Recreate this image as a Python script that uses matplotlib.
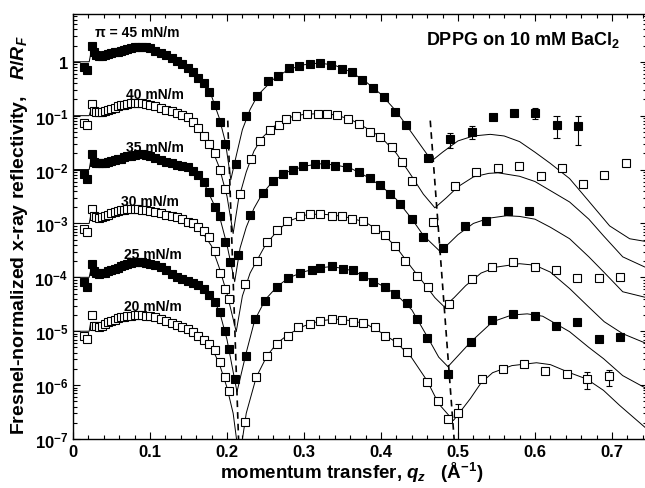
import matplotlib
matplotlib.use('Agg')
import matplotlib.pyplot as plt
import numpy as np
from matplotlib.ticker import LogLocator, MultipleLocator, FixedLocator, FuncFormatter, NullFormatter

plt.rcParams['font.family'] = 'Liberation Sans'
plt.rcParams['font.weight'] = 'bold'
plt.rcParams['mathtext.fontset'] = 'custom'
plt.rcParams['mathtext.rm'] = 'Liberation Sans:bold'
plt.rcParams['mathtext.bf'] = 'Liberation Sans:bold'
plt.rcParams['mathtext.it'] = 'Liberation Sans:italic:bold'

### data (R/R_F of each isotherm, before the decade offsets) ###

labels = ['\u03c0 = 45 mN/m', '40 mN/m', '35 mN/m', '30 mN/m', '25 mN/m', '20 mN/m']
offsets = [1, 1e-1, 1e-2, 1e-3, 1e-4, 1e-5]
filled = [True, False, True, False, True, False]
y_decades = [1e-7, 1e-6, 1e-5, 1e-4, 1e-3, 1e-2, 1e-1, 1]

# measured points, low-q part shares one q grid
q_low = [0.014, 0.018, 0.025, 0.027, 0.030, 0.034, 0.038, 0.042, 0.046, 0.050, 0.054,
         0.058, 0.062, 0.066, 0.070, 0.075, 0.080, 0.085, 0.090, 0.095, 0.100, 0.107,
         0.114, 0.121, 0.128, 0.135, 0.142, 0.149, 0.156, 0.163, 0.170, 0.177, 0.184,
         0.191, 0.198]

r45_low = [0.8, 0.7, 1.95, 1.55, 1.35, 1.3, 1.3, 1.35, 1.4, 1.45, 1.5, 1.55, 1.6, 1.65, 1.7,
           1.78, 1.85, 1.9, 1.9, 1.85, 1.8, 1.6, 1.45, 1.32, 1.2, 1.05, 0.9, 0.78, 0.65, 0.5,
           0.4, 0.28, 0.16, 0.076, 0.03]
r40_low = [0.72, 0.66, 1.65, 1.2, 1.15, 1.15, 1.18, 1.2, 1.28, 1.34, 1.4, 1.48, 1.55, 1.6, 1.65,
           1.72, 1.74, 1.74, 1.7, 1.65, 1.6, 1.5, 1.4, 1.3, 1.2, 1.12, 1.05, 0.95, 0.75, 0.58,
           0.42, 0.3, 0.2, 0.1, 0.044]
r35_low = [0.83, 0.68, 1.95, 1.4, 1.35, 1.32, 1.32, 1.35, 1.4, 1.45, 1.5, 1.55, 1.6, 1.68, 1.75,
           1.82, 1.88, 1.95, 1.95, 1.9, 1.8, 1.62, 1.5, 1.4, 1.3, 1.24, 1.18, 1.12, 0.95, 0.8,
           0.58, 0.38, 0.2, 0.135, 0.045]
r30_low = [0.8, 0.7, 1.87, 1.39, 1.3, 1.28, 1.3, 1.35, 1.45, 1.55, 1.62, 1.7, 1.75, 1.8, 1.83,
           1.87, 1.87, 1.85, 1.8, 1.75, 1.7, 1.65, 1.55, 1.45, 1.4, 1.3, 1.2, 1.08, 1.0, 0.85,
           0.72, 0.55, 0.31, 0.12, 0.06]
r25_low = [0.83, 0.67, 1.8, 1.3, 1.2, 1.15, 1.18, 1.22, 1.3, 1.38, 1.45, 1.52, 1.6, 1.68, 1.75,
           1.82, 1.9, 1.95, 1.92, 1.85, 1.78, 1.66, 1.55, 1.35, 1.15, 1.02, 0.93, 0.86, 0.8, 0.72,
           0.6, 0.48, 0.35, 0.23, 0.1]
r20_low = [0.83, 0.73, 2.0, 1.26, 1.25, 1.22, 1.25, 1.35, 1.48, 1.58, 1.65, 1.73, 1.8, 1.86, 1.9,
           1.94, 1.97, 2.0, 1.98, 1.95, 1.92, 1.82, 1.7, 1.55, 1.45, 1.32, 1.2, 1.1, 0.98, 0.82,
           0.7, 0.58, 0.45, 0.27, 0.14]

# measured points above the first minimum
q45_hi = [0.212, 0.225, 0.239, 0.253, 0.266, 0.280, 0.294, 0.308, 0.321, 0.335, 0.349, 0.362,
          0.376, 0.390, 0.404, 0.418, 0.432, 0.461, 0.490, 0.518, 0.545, 0.573, 0.600, 0.628, 0.656]
r45_hi = [0.0128, 0.1, 0.23, 0.44, 0.55, 0.78, 0.85, 0.92, 0.96, 0.86, 0.72, 0.65, 0.45, 0.32,
          0.22, 0.115, 0.066, 0.0166, 0.037, 0.05, 0.093, 0.11, 0.11, 0.068, 0.065]
q40_hi = [0.217, 0.231, 0.243, 0.256, 0.267, 0.277, 0.290, 0.304, 0.318, 0.330, 0.343, 0.357,
          0.371, 0.386, 0.399, 0.414, 0.427, 0.440, 0.468, 0.496, 0.524, 0.552, 0.579, 0.608,
          0.635, 0.662, 0.690, 0.718]
r40_hi = [0.035, 0.16, 0.34, 0.55, 0.68, 0.87, 1.0, 1.08, 1.08, 1.08, 1.04, 0.88, 0.71, 0.5,
          0.41, 0.265, 0.14, 0.062, 0.0108, 0.05, 0.091, 0.108, 0.118, 0.077, 0.108, 0.055, 0.08, 0.134]
q35_hi = [0.204, 0.214, 0.230, 0.247, 0.260, 0.273, 0.286, 0.299, 0.314, 0.327, 0.340, 0.356,
          0.371, 0.386, 0.399, 0.412, 0.425, 0.440, 0.455, 0.480, 0.509, 0.537, 0.565, 0.592]
r35_hi = [0.0195, 0.026, 0.145, 0.37, 0.62, 0.835, 1.0, 1.16, 1.28, 1.28, 1.16, 1.13, 0.91, 0.705,
          0.52, 0.356, 0.232, 0.122, 0.057, 0.035, 0.09, 0.11, 0.167, 0.17]
q30_hi = [0.203, 0.223, 0.239, 0.252, 0.265, 0.278, 0.295, 0.308, 0.321, 0.336, 0.349, 0.362,
          0.377, 0.392, 0.405, 0.418, 0.431, 0.447, 0.461, 0.488, 0.518, 0.544, 0.571, 0.600,
          0.627, 0.655, 0.683, 0.711]
r30_hi = [0.04, 0.076, 0.2, 0.46, 0.75, 1.12, 1.39, 1.5, 1.51, 1.39, 1.39, 1.22, 1.12, 0.8, 0.6,
          0.386, 0.203, 0.107, 0.067, 0.032, 0.095, 0.158, 0.195, 0.158, 0.138, 0.098, 0.096, 0.103]
q25_hi = [0.202, 0.210, 0.225, 0.236, 0.249, 0.265, 0.279, 0.295, 0.310, 0.321, 0.336, 0.351,
          0.364, 0.377, 0.390, 0.405, 0.418, 0.434, 0.447, 0.460, 0.487, 0.517, 0.544, 0.571,
          0.600, 0.627, 0.655, 0.683, 0.710]
r25_hi = [0.047, 0.013, 0.034, 0.17, 0.37, 0.67, 0.98, 1.22, 1.38, 1.51, 1.6, 1.44, 1.34, 1.07,
          0.83, 0.67, 0.5, 0.34, 0.17, 0.075, 0.0163, 0.064, 0.163, 0.21, 0.19, 0.126, 0.15, 0.073, 0.078]
q20_hi = [0.203, 0.223, 0.238, 0.252, 0.265, 0.279, 0.292, 0.308, 0.321, 0.336, 0.350, 0.364,
          0.377, 0.392, 0.405, 0.421, 0.434, 0.460, 0.474, 0.487, 0.500, 0.531, 0.558, 0.586,
          0.613, 0.641, 0.668, 0.696]
r20_hi = [0.079, 0.021, 0.143, 0.35, 0.59, 0.83, 1.21, 1.38, 1.57, 1.71, 1.63, 1.51, 1.44, 1.19,
          0.83, 0.64, 0.42, 0.116, 0.051, 0.024, 0.03, 0.13, 0.2, 0.25, 0.185, 0.163, 0.13, 0.15]

# error bars (q, lower, upper)
err45_q = [0.490, 0.518, 0.600, 0.628, 0.656]
err45_lo = [0.025, 0.037, 0.0875, 0.039, 0.029]
err45_hi = [0.048, 0.065, 0.14, 0.099, 0.099]
err20_q = [0.500, 0.668, 0.696]
err20_lo = [0.003, 0.086, 0.095]
err20_hi = [0.045, 0.177, 0.19]

# model fits, low-q part on a shared grid
qfit_low = [0.0, 0.021, 0.023, 0.03, 0.04, 0.05, 0.06, 0.07, 0.08, 0.09, 0.10, 0.11, 0.12,
            0.13, 0.14, 0.15, 0.16, 0.17, 0.18, 0.19]
fit45_low = [1.0, 1.0, 1.4, 1.32, 1.33, 1.45, 1.6, 1.75, 1.85, 1.9, 1.8, 1.55, 1.32, 1.15, 0.95,
             0.78, 0.56, 0.4, 0.23, 0.09]
fit40_low = [1.0, 1.0, 1.25, 1.15, 1.2, 1.32, 1.5, 1.65, 1.73, 1.73, 1.6, 1.45, 1.3, 1.15, 1.05,
             0.92, 0.68, 0.43, 0.25, 0.11]
fit35_low = [1.0, 1.0, 1.45, 1.35, 1.35, 1.45, 1.6, 1.78, 1.9, 1.95, 1.8, 1.58, 1.42, 1.28, 1.2,
             1.08, 0.86, 0.57, 0.28, 0.14]
fit30_low = [1.0, 1.0, 1.4, 1.3, 1.32, 1.5, 1.68, 1.8, 1.87, 1.82, 1.75, 1.62, 1.45, 1.3, 1.2,
             1.05, 0.85, 0.62, 0.38, 0.15]
fit25_low = [1.0, 1.0, 1.35, 1.2, 1.2, 1.35, 1.55, 1.72, 1.88, 1.93, 1.8, 1.6, 1.38, 1.12, 0.97,
             0.86, 0.75, 0.6, 0.42, 0.24]
fit20_low = [1.0, 1.0, 1.45, 1.25, 1.3, 1.5, 1.72, 1.88, 1.97, 1.98, 1.95, 1.8, 1.58, 1.4, 1.25,
             1.08, 0.9, 0.7, 0.5, 0.25]

qfit45_hi = [0.198, 0.205, 0.212, 0.22, 0.23, 0.24, 0.26, 0.28, 0.30, 0.32, 0.34, 0.36, 0.38,
             0.40, 0.42, 0.44, 0.455, 0.466, 0.48, 0.50, 0.52, 0.542, 0.56, 0.58, 0.60, 0.62,
             0.645, 0.667, 0.697, 0.723, 0.745]
fit45_hi = [0.032, 0.0065, 0.018, 0.055, 0.13, 0.24, 0.47, 0.72, 0.88, 0.95, 0.86, 0.66, 0.43,
            0.25, 0.12, 0.048, 0.024, 0.0145, 0.021, 0.034, 0.042, 0.045, 0.042, 0.033, 0.021,
            0.013, 0.0068, 0.0029, 0.0009, 0.00052, 0.00046]
qfit40_hi = [0.20, 0.208, 0.215, 0.225, 0.235, 0.245, 0.26, 0.28, 0.30, 0.32, 0.34, 0.36, 0.38,
             0.40, 0.42, 0.44, 0.455, 0.47, 0.485, 0.50, 0.52, 0.54, 0.552, 0.58, 0.60, 0.645,
             0.67, 0.689, 0.714, 0.745]
fit40_hi = [0.032, 0.0065, 0.028, 0.09, 0.22, 0.38, 0.62, 0.92, 1.06, 1.09, 1.04, 0.86, 0.6,
            0.4, 0.2, 0.075, 0.035, 0.0195, 0.03, 0.048, 0.073, 0.085, 0.087, 0.075, 0.06, 0.025,
            0.012, 0.0059, 0.0024, 0.0015]
qfit35_hi = [0.20, 0.21, 0.217, 0.225, 0.235, 0.245, 0.26, 0.28, 0.30, 0.32, 0.34, 0.36, 0.38,
             0.40, 0.42, 0.44, 0.455, 0.477, 0.49, 0.50, 0.52, 0.54, 0.563, 0.58, 0.60, 0.62,
             0.645, 0.67, 0.689, 0.714, 0.745]
fit35_hi = [0.04, 0.0083, 0.035, 0.085, 0.19, 0.34, 0.62, 0.92, 1.15, 1.28, 1.22, 1.07, 0.76,
            0.5, 0.28, 0.122, 0.06, 0.03, 0.045, 0.062, 0.1, 0.125, 0.139, 0.135, 0.12, 0.085,
            0.052, 0.024, 0.0127, 0.0054, 0.0042]
qfit30_hi = [0.20, 0.212, 0.22, 0.23, 0.24, 0.25, 0.265, 0.28, 0.30, 0.32, 0.34, 0.36, 0.38,
             0.40, 0.42, 0.44, 0.46, 0.47, 0.482, 0.495, 0.51, 0.53, 0.55, 0.58, 0.60, 0.62,
             0.645, 0.67, 0.69, 0.714, 0.745]
fit30_hi = [0.05, 0.0098, 0.045, 0.12, 0.22, 0.4, 0.72, 1.1, 1.42, 1.5, 1.42, 1.27, 1.05, 0.7,
            0.36, 0.15, 0.065, 0.042, 0.0285, 0.042, 0.07, 0.12, 0.155, 0.179, 0.168, 0.125,
            0.062, 0.028, 0.015, 0.009, 0.0059]
qfit25_hi = [0.20, 0.213, 0.225, 0.236, 0.25, 0.265, 0.28, 0.30, 0.32, 0.335, 0.35, 0.365, 0.38,
             0.40, 0.42, 0.44, 0.46, 0.475, 0.487, 0.50, 0.517, 0.545, 0.57, 0.59, 0.61, 0.645,
             0.67, 0.689, 0.714, 0.745]
fit25_hi = [0.07, 0.0075, 0.04, 0.16, 0.39, 0.67, 0.98, 1.27, 1.5, 1.58, 1.47, 1.3, 1.0, 0.72,
            0.48, 0.25, 0.08, 0.033, 0.022, 0.035, 0.064, 0.15, 0.2, 0.21, 0.19, 0.098, 0.05,
            0.031, 0.015, 0.0086]
qfit20_hi = [0.20, 0.208, 0.216, 0.225, 0.238, 0.252, 0.265, 0.28, 0.30, 0.32, 0.34, 0.36, 0.38,
             0.40, 0.42, 0.44, 0.46, 0.475, 0.494, 0.505, 0.516, 0.53, 0.545, 0.57, 0.602, 0.62,
             0.645, 0.667, 0.689, 0.71, 0.745]
fit20_hi = [0.09, 0.03, 0.004, 0.03, 0.14, 0.35, 0.6, 0.88, 1.25, 1.55, 1.68, 1.58, 1.38, 0.95,
            0.62, 0.32, 0.12, 0.045, 0.022, 0.035, 0.056, 0.11, 0.17, 0.23, 0.26, 0.24, 0.17,
            0.13, 0.08, 0.042, 0.0155]

# dashed lines through the minima
dash_q = [[0.201, 0.215], [0.464, 0.495]]
dash_r = [0.081, 1e-7]

data_low = [r45_low, r40_low, r35_low, r30_low, r25_low, r20_low]
data_hi_q = [q45_hi, q40_hi, q35_hi, q30_hi, q25_hi, q20_hi]
data_hi = [r45_hi, r40_hi, r35_hi, r30_hi, r25_hi, r20_hi]
fits_low = [fit45_low, fit40_low, fit35_low, fit30_low, fit25_low, fit20_low]
fits_hi_q = [qfit45_hi, qfit40_hi, qfit35_hi, qfit30_hi, qfit25_hi, qfit20_hi]
fits_hi = [fit45_hi, fit40_hi, fit35_hi, fit30_hi, fit25_hi, fit20_hi]

### plot ###

fig = plt.figure(figsize=(6.45, 4.89), dpi=100)
ax = fig.add_axes([73/645, 49/489, 573.6/645, 425/489])

for i in range(6):
    off = offsets[i]
    fq = np.array(qfit_low + fits_hi_q[i])
    fr = np.array(fits_low[i] + fits_hi[i]) * off
    ax.plot(fq, fr, color='black', lw=0.7, zorder=2)

    q = np.array(q_low + data_hi_q[i])
    r = np.array(data_low[i] + data_hi[i]) * off
    face = 'black' if filled[i] else 'white'
    ax.plot(q, r, ls='none', marker='s', ms=5.5, mfc=face, mec='black', mew=0.8, zorder=4)

# error bars
for eq, elo, ehi, off in [(err45_q, err45_lo, err45_hi, offsets[0]),
                          (err20_q, err20_lo, err20_hi, offsets[5])]:
    ax.vlines(eq, np.array(elo)*off, np.array(ehi)*off, color='black', lw=0.8, zorder=3)
    ax.hlines(np.array(elo)*off, np.array(eq)-0.004, np.array(eq)+0.004, color='black', lw=0.8, zorder=3)
    ax.hlines(np.array(ehi)*off, np.array(eq)-0.004, np.array(eq)+0.004, color='black', lw=0.8, zorder=3)

for dq in dash_q:
    ax.plot(dq, dash_r, color='black', lw=1.2, ls=(0, (4, 3)), zorder=3)

ax.set_yscale('log')
ax.set_xlim(0, 0.745)
ax.set_ylim(1e-7, 7.7)

ax.xaxis.set_major_locator(MultipleLocator(0.1))
ax.xaxis.set_minor_locator(MultipleLocator(0.02))
ax.xaxis.set_major_formatter(FuncFormatter(lambda v, p: '0' if abs(v) < 1e-9 else '%.1f' % v))
ax.yaxis.set_major_locator(FixedLocator(y_decades))
ax.yaxis.set_minor_locator(LogLocator(base=10, subs=np.arange(2, 10), numticks=20))
ax.yaxis.set_major_formatter(FuncFormatter(
    lambda v, p: '1' if abs(v - 1) < 1e-9 else r'$10^{%d}$' % round(np.log10(v))))
ax.yaxis.set_minor_formatter(NullFormatter())

ax.tick_params(which='both', direction='in', top=True, right=True, width=0.8)
ax.tick_params(which='major', length=5, labelsize=12)
ax.tick_params(which='minor', length=3)
for s in ax.spines.values():
    s.set_linewidth(1.0)

ax.set_xlabel('momentum transfer, $q_z$   (Å$^{-1}$)', fontsize=13.5, fontweight='bold')
ax.set_ylabel('Fresnel-normalized x-ray reflectivity,   $R/R_F$', fontsize=14, fontweight='bold')
ax.xaxis.set_label_coords(0.485, -0.05)
ax.yaxis.set_label_coords(-0.075, 0.482)

# curve labels
label_q = [0.083, 0.106, 0.106, 0.100, 0.104, 0.104]
label_r = [3.6, 0.255, 0.0265, 2.6e-3, 2.7e-4, 2.97e-5]
for i in range(6):
    ax.text(label_q[i], label_r[i], labels[i], ha='center', va='center',
            fontsize=10, fontweight='bold')

ax.text(0.953, 0.941, 'DPPG on 10 mM BaCl$_2$', transform=ax.transAxes,
        ha='right', va='center', fontsize=13, fontweight='bold')

fig.savefig('out.png', dpi=100)
